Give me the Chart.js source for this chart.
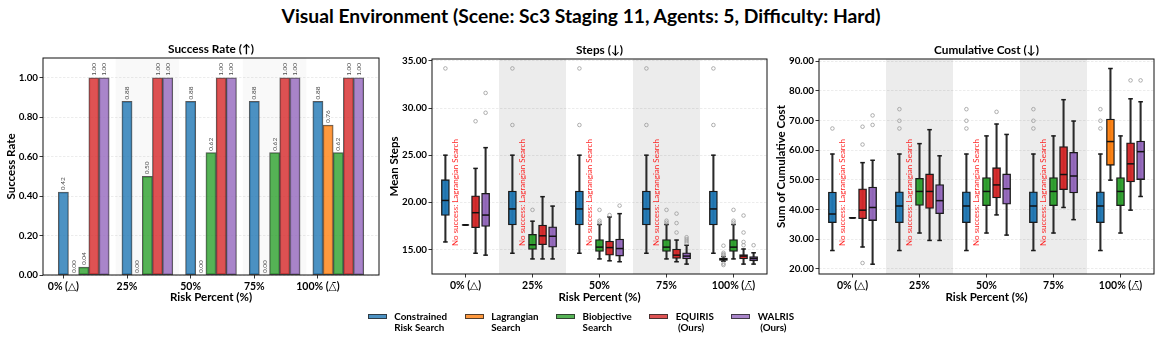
<!DOCTYPE html>
<html>
<head>
<meta charset="utf-8">
<script src="https://cdn.jsdelivr.net/npm/chart.js@4.4.1/dist/chart.umd.min.js"></script>
<style>
html,body{margin:0;padding:0;background:#fff;}
#wrap{position:relative;width:1162px;height:343px;overflow:hidden;font-family:Lato,'Open Sans','DejaVu Sans',sans-serif;}
canvas{position:absolute;left:0;top:0;}
#title{position:absolute;left:0;top:4px;width:1162px;text-align:center;font-weight:bold;font-size:19.3px;line-height:23px;color:#000;}
#legend{position:absolute;left:0;top:311px;width:1162px;display:flex;justify-content:center;font-weight:bold;font-size:9.8px;line-height:10.6px;color:#000;}
.item{display:flex;align-items:flex-start;margin:0 8.8px;}
.patch{width:19px;height:5.8px;margin-top:2.6px;margin-right:7.4px;box-sizing:border-box;border:1px solid rgba(40,40,40,0.8);}
.lbl{white-space:pre;}
</style>
</head>
<body>
<div id="wrap">
  <div id="title">Visual Environment (Scene: Sc3 Staging 11, Agents: 5, Difficulty: Hard)</div>
  <canvas id="c1" width="1162" height="343"></canvas>
  <canvas id="c2" width="1162" height="343"></canvas>
  <canvas id="c3" width="1162" height="343"></canvas>
  <div id="legend"></div>
</div>
<script>
// ---------------- DATA ----------------
const riskLabels = ['0% (\u25B3)', '25%', '50%', '75%', '100% (\u25B3\u0304)'];
const riskTicks = [0, 1, 2, 3, 4];
const seriesNames = ['Constrained\nRisk Search', 'Lagrangian\nSearch', 'Biobjective\nSearch', 'EQUIRIS\n (Ours)', 'WALRIS\n (Ours)'];
const seriesColors = ['#1f77b4', '#ff7f0e', '#2ca02c', '#d62728', '#9467bd'];

const successTicks = [0, 0.2, 0.4, 0.6, 0.8, 1.0];
const successConstrained = [0.42, 0.88, 0.88, 0.88, 0.88];
const successLagrangian = [0.00, 0.00, 0.00, 0.00, 0.76];
const successBiobjective = [0.04, 0.50, 0.62, 0.62, 0.62];
const successEquiris = [1.00, 1.00, 1.00, 1.00, 1.00];
const successWalris = [1.00, 1.00, 1.00, 1.00, 1.00];

// box summaries: [lower whisker, Q1, median, Q3, upper whisker]
const stepsTicks = [15, 20, 25, 30, 35];
const stepsConstrained = [[15.8, 18.6, 20.2, 22.4, 25.0], [14.6, 17.6, 19.3, 21.2, 25.0], [14.6, 17.6, 19.3, 21.2, 25.0], [14.6, 17.6, 19.3, 21.2, 25.0], [14.6, 17.6, 19.3, 21.2, 25.0]];
const stepsConstrainedOut = [[34.2], [34.2, 28.2], [34.2, 28.2], [34.2, 28.2], [34.2, 28.2]];
const stepsLagrangian = [null, null, null, null, [13.75, 13.85, 13.95, 14.08, 14.25]];
const stepsLagrangianOut = [[], [], [], [], [15.4, 14.65, 14.5, 14.4, 13.5, 13.35]];
const stepsBiobjective = [[17.6, 17.6, 17.6, 17.6, 17.6], [14.0, 15.0, 15.5, 16.6, 18.0], [14.0, 14.8, 15.25, 16.05, 17.65], [14.0, 14.8, 15.25, 16.05, 17.65], [14.0, 14.8, 15.25, 16.05, 17.65]];
const stepsBiobjectiveOut = [[], [19.2], [19.2, 18.05, 17.85], [19.2, 18.05, 17.85], [19.2, 18.05, 17.85]];
const stepsEquiris = [[14.6, 17.3, 18.9, 20.7, 23.6], [14.0, 15.5, 16.45, 17.6, 20.6], [13.8, 14.4, 15.2, 15.9, 18.45], [13.7, 14.05, 14.4, 15.05, 16.0], [13.45, 14.0, 14.3, 14.45, 15.05]];
const stepsEquirisOut = [[28.6], [], [18.65], [18.8, 17.8, 16.8], [18.6, 16.8, 15.8, 15.45]];
const stepsWalris = [[14.4, 17.45, 18.65, 20.95, 25.8], [14.0, 15.25, 16.4, 17.4, 19.6], [13.7, 14.3, 15.1, 16.1, 18.8], [13.45, 14.0, 14.3, 14.65, 15.45], [13.45, 13.8, 14.05, 14.25, 14.65]];
const stepsWalrisOut = [[31.6, 29.5], [], [19.65], [16.3, 16.1, 15.9, 15.7], [15.45]];

const costTicks = [20, 30, 40, 50, 60, 70, 80, 90];
const costConstrained = [[26.2, 35.6, 38.5, 45.9, 58.7], [26.2, 35.6, 41.2, 46.0, 58.7], [26.2, 35.6, 41.2, 46.0, 58.7], [26.2, 35.6, 41.2, 46.0, 58.7], [26.2, 35.6, 41.2, 46.0, 58.7]];
const costConstrainedOut = [[67.3], [73.8, 69.9, 67.3], [73.8, 69.9, 67.3], [73.8, 69.9, 67.3], [73.8, 69.9, 67.3]];
const costLagrangian = [null, null, null, null, [49.9, 54.9, 62.9, 70.5, 87.5]];
const costLagrangianOut = [[], [], [], [], []];
const costBiobjective = [[37.2, 37.2, 37.2, 37.2, 37.2], [32.1, 41.4, 46.1, 50.5, 62.2], [32.1, 41.3, 46.1, 50.8, 64.8], [32.1, 41.3, 46.1, 50.8, 64.8], [32.1, 41.3, 46.1, 50.8, 64.8]];
const costBiobjectiveOut = [[], [], [], [], []];
const costEquiris = [[27.4, 36.9, 39.8, 47.0, 55.8], [29.6, 40.4, 46.1, 52.0, 66.9], [38.2, 43.9, 48.3, 54.1, 68.8], [40.7, 46.7, 51.8, 61.2, 77.0], [39.8, 49.3, 55.4, 62.5, 77.3]];
const costEquirisOut = [[67.9, 61.9, 22.0], [], [72.9], [], [83.5]];
const costWalris = [[21.6, 36.3, 40.7, 47.6, 56.6], [29.6, 38.6, 43.0, 48.4, 58.1], [31.4, 41.8, 47.0, 52.0, 65.3], [36.6, 45.6, 51.3, 59.3, 69.8], [44.4, 50.1, 59.5, 63.1, 76.3]];
const costWalrisOut = [[71.7, 68.5], [], [], [], [83.5]];

// ---------------- LAYOUT / STYLE ----------------
const W = 1162, H = 343;
const FONT = "Lato, 'Open Sans', 'DejaVu Sans', sans-serif";
const P1 = {left: 43, right: 379, top: 58, bottom: 275, yw: 39, xr: [-0.32, 4.96]};
const P2 = {left: 432, right: 767, top: 59, bottom: 274, yw: 44.6, xr: [-0.5, 4.5]};
const P3 = {left: 819, right: 1154, top: 59, bottom: 274, yw: 44.9, xr: [-0.5, 4.5]};
const TITLE_Y = 304.6;

function rgba(hex, a) {
  const n = parseInt(hex.slice(1), 16);
  return `rgba(${(n >> 16) & 255},${(n >> 8) & 255},${n & 255},${a})`;
}
function ppu(p) { return (p.right - p.left) / (p.xr[1] - p.xr[0]); }

function baseOptions(p, yMin, yMax, yTicks, yTitle) {
  const xh = TITLE_Y - p.bottom;
  return {
    responsive: false, animation: false, devicePixelRatio: 1,
    events: [],
    layout: {padding: {left: p.left - p.yw, right: W - p.right, top: p.top, bottom: H - TITLE_Y}},
    plugins: {legend: {display: false}, tooltip: {enabled: false}, title: {display: false}},
    scales: {
      x: {
        type: 'linear', min: p.xr[0], max: p.xr[1], offset: false,
        afterFit: s => { s.height = xh; },
        afterBuildTicks: s => { s.ticks = riskTicks.map(v => ({value: v})); },
        ticks: {callback: (v, i) => riskLabels[i], font: {size: 10.5, weight: 'bold', family: FONT}, color: '#000', padding: 2, maxRotation: 0, autoSkip: false},
        grid: {display: true, drawOnChartArea: false, drawTicks: true, tickLength: 3.5, tickColor: '#000', tickWidth: 0.8, offset: false},
        border: {display: false},
        title: {display: true, text: 'Risk Percent (%)', font: {size: 11.5, weight: 'bold', family: FONT}, color: '#000', padding: 0}
      },
      y: {
        min: yMin, max: yMax,
        afterFit: s => { s.width = p.yw; },
        afterBuildTicks: s => { s.ticks = yTicks.map(v => ({value: v})); },
        ticks: {callback: v => Number(v).toFixed(2), font: {size: 9.8, weight: 'bold', family: FONT}, color: '#000', padding: 1.5},
        grid: {color: 'rgba(0,0,0,0.13)', lineWidth: 0.6, drawTicks: true, tickLength: 3.5, tickColor: '#000', tickWidth: 0.8},
        border: {display: false, dash: [2.5, 1.5]},
        title: {display: true, text: yTitle, font: {size: 11.5, weight: 'bold', family: FONT}, color: '#000', padding: 0}
      }
    }
  };
}

function framePlugin(title, bandCenters, bandColor) {
  return {
    id: 'frame',
    beforeDraw(chart) {
      const {ctx, chartArea: a, scales: {x}} = chart;
      ctx.save();
      ctx.fillStyle = bandColor;
      bandCenters.forEach(c => {
        const x0 = Math.max(a.left, x.getPixelForValue(c - 0.5));
        const x1 = Math.min(a.right, x.getPixelForValue(c + 0.5));
        ctx.fillRect(x0, a.top, x1 - x0, a.bottom - a.top);
      });
      ctx.restore();
    },
    afterDraw(chart) {
      const {ctx, chartArea: a} = chart;
      ctx.save();
      ctx.strokeStyle = '#111';
      ctx.lineWidth = 1;
      ctx.strokeRect(a.left, a.top, a.right - a.left, a.bottom - a.top);
      ctx.fillStyle = '#000';
      ctx.font = `bold 11.8px ${FONT}`;
      ctx.textAlign = 'center';
      ctx.textBaseline = 'middle';
      ctx.fillText(title, (a.left + a.right) / 2, a.top - 8.8);
      ctx.restore();
    }
  };
}

// ---------------- CHART 1: success rate ----------------
const successSeries = [successConstrained, successLagrangian, successBiobjective, successEquiris, successWalris];
const barW = 0.16;
new Chart(document.getElementById('c1'), {
  type: 'bar',
  data: {
    datasets: successSeries.map((vals, s) => ({
      label: seriesNames[s],
      data: vals.map((v, g) => ({x: g + s * barW, y: v})),
      backgroundColor: rgba(seriesColors[s], 0.8),
      borderColor: 'rgba(35,35,35,0.75)',
      borderWidth: 1,
      borderSkipped: false,
      barThickness: barW * ppu(P1),
      grouped: false
    }))
  },
  options: baseOptions(P1, 0, 1.1, successTicks, 'Success Rate'),
  plugins: [
    framePlugin('Success Rate (\u2191)', [1 + 2 * barW, 3 + 2 * barW], 'rgba(0,0,0,0.022)'),
    {
      id: 'valueLabels',
      afterDatasetsDraw(chart) {
        const ctx = chart.ctx;
        ctx.save();
        ctx.font = `6.5px ${FONT}`;
        ctx.fillStyle = '#4a4a4a';
        ctx.textAlign = 'left';
        ctx.textBaseline = 'middle';
        chart.data.datasets.forEach((ds, di) => {
          chart.getDatasetMeta(di).data.forEach((el, i) => {
            ctx.save();
            ctx.translate(el.x, el.y - 2);
            ctx.rotate(-Math.PI / 2);
            ctx.fillText(ds.data[i].y.toFixed(2), 0, 0);
            ctx.restore();
          });
        });
        ctx.restore();
      }
    }
  ]
});

// ---------------- BOX PLOTS ----------------
const slotStep = 0.15, boxW = 0.12;
function boxDatasets(boxes, outs, color, slot, p) {
  const off = (slot - 2) * slotStep;
  const boxPx = boxW * ppu(p);
  const pts = [];
  boxes.forEach((b, g) => { if (b) pts.push({x: g + off, b}); });
  const outPts = [];
  outs.forEach((arr, g) => arr.forEach(v => outPts.push({x: g + off, y: v})));
  return [
    {type: 'bar', data: pts.map(q => ({x: q.x, y: [q.b[0], q.b[4]]})), backgroundColor: '#2a2a2a', borderWidth: 0, barThickness: 1.4, grouped: false, order: 5},
    {type: 'bar', data: pts.map(q => ({x: q.x, y: [q.b[1], q.b[3]]})), backgroundColor: rgba(color, 0.95), borderColor: '#1a1a1a', borderWidth: 1.3, borderSkipped: false, barThickness: boxPx, grouped: false, order: 4},
    {type: 'scatter', data: pts.flatMap(q => [{x: q.x, y: q.b[0]}, {x: q.x, y: q.b[4]}]), pointStyle: 'line', pointRadius: boxPx / 4 + 0.3, pointBorderWidth: 1.5, pointBorderColor: '#1a1a1a', order: 3},
    {type: 'scatter', data: pts.map(q => ({x: q.x, y: q.b[2]})), pointStyle: 'line', pointRadius: boxPx / 2 - 0.4, pointBorderWidth: 1.5, pointBorderColor: '#111', order: 2},
    {type: 'scatter', data: outPts, pointStyle: 'circle', pointRadius: 1.8, pointBorderWidth: 0.8, pointBorderColor: '#9a9a9a', pointBackgroundColor: 'rgba(0,0,0,0)', order: 1}
  ];
}
function noSuccessPlugin(lagBoxes) {
  return {
    id: 'noSuccess',
    afterDatasetsDraw(chart) {
      const {ctx, chartArea: a, scales: {x}} = chart;
      ctx.save();
      ctx.font = `8px ${FONT}`;
      ctx.fillStyle = 'rgba(255,0,0,0.85)';
      ctx.textAlign = 'center';
      ctx.textBaseline = 'middle';
      lagBoxes.forEach((b, g) => {
        if (b) return;
        ctx.save();
        ctx.translate(x.getPixelForValue(g + (1 - 2) * slotStep), a.top + 0.621 * (a.bottom - a.top));
        ctx.rotate(-Math.PI / 2);
        ctx.fillText('No success: Lagrangian Search', 0, 0);
        ctx.restore();
      });
      ctx.restore();
    }
  };
}
function boxChart(id, p, series, outs, yMin, yMax, yTicks, yTitle, title) {
  const datasets = [];
  series.forEach((s, i) => datasets.push(...boxDatasets(s, outs[i], seriesColors[i], i, p)));
  return new Chart(document.getElementById(id), {
    type: 'bar',
    data: {datasets},
    options: baseOptions(p, yMin, yMax, yTicks, yTitle),
    plugins: [framePlugin(title, [1, 3], '#ececec'), noSuccessPlugin(series[1])]
  });
}

boxChart('c2', P2,
  [stepsConstrained, stepsLagrangian, stepsBiobjective, stepsEquiris, stepsWalris],
  [stepsConstrainedOut, stepsLagrangianOut, stepsBiobjectiveOut, stepsEquirisOut, stepsWalrisOut],
  12.4, 35.2, stepsTicks, 'Mean Steps', 'Steps (\u2193)');

boxChart('c3', P3,
  [costConstrained, costLagrangian, costBiobjective, costEquiris, costWalris],
  [costConstrainedOut, costLagrangianOut, costBiobjectiveOut, costEquirisOut, costWalrisOut],
  18.3, 90.7, costTicks, 'Sum of Cumulative Cost', 'Cumulative Cost (\u2193)');

// ---------------- LEGEND ----------------
const leg = document.getElementById('legend');
seriesNames.forEach((name, i) => {
  const item = document.createElement('div');
  item.className = 'item';
  const patch = document.createElement('div');
  patch.className = 'patch';
  patch.style.background = rgba(seriesColors[i], 0.8);
  const lbl = document.createElement('div');
  lbl.className = 'lbl';
  lbl.textContent = name;
  item.appendChild(patch);
  item.appendChild(lbl);
  leg.appendChild(item);
});
</script>
</body>
</html>
